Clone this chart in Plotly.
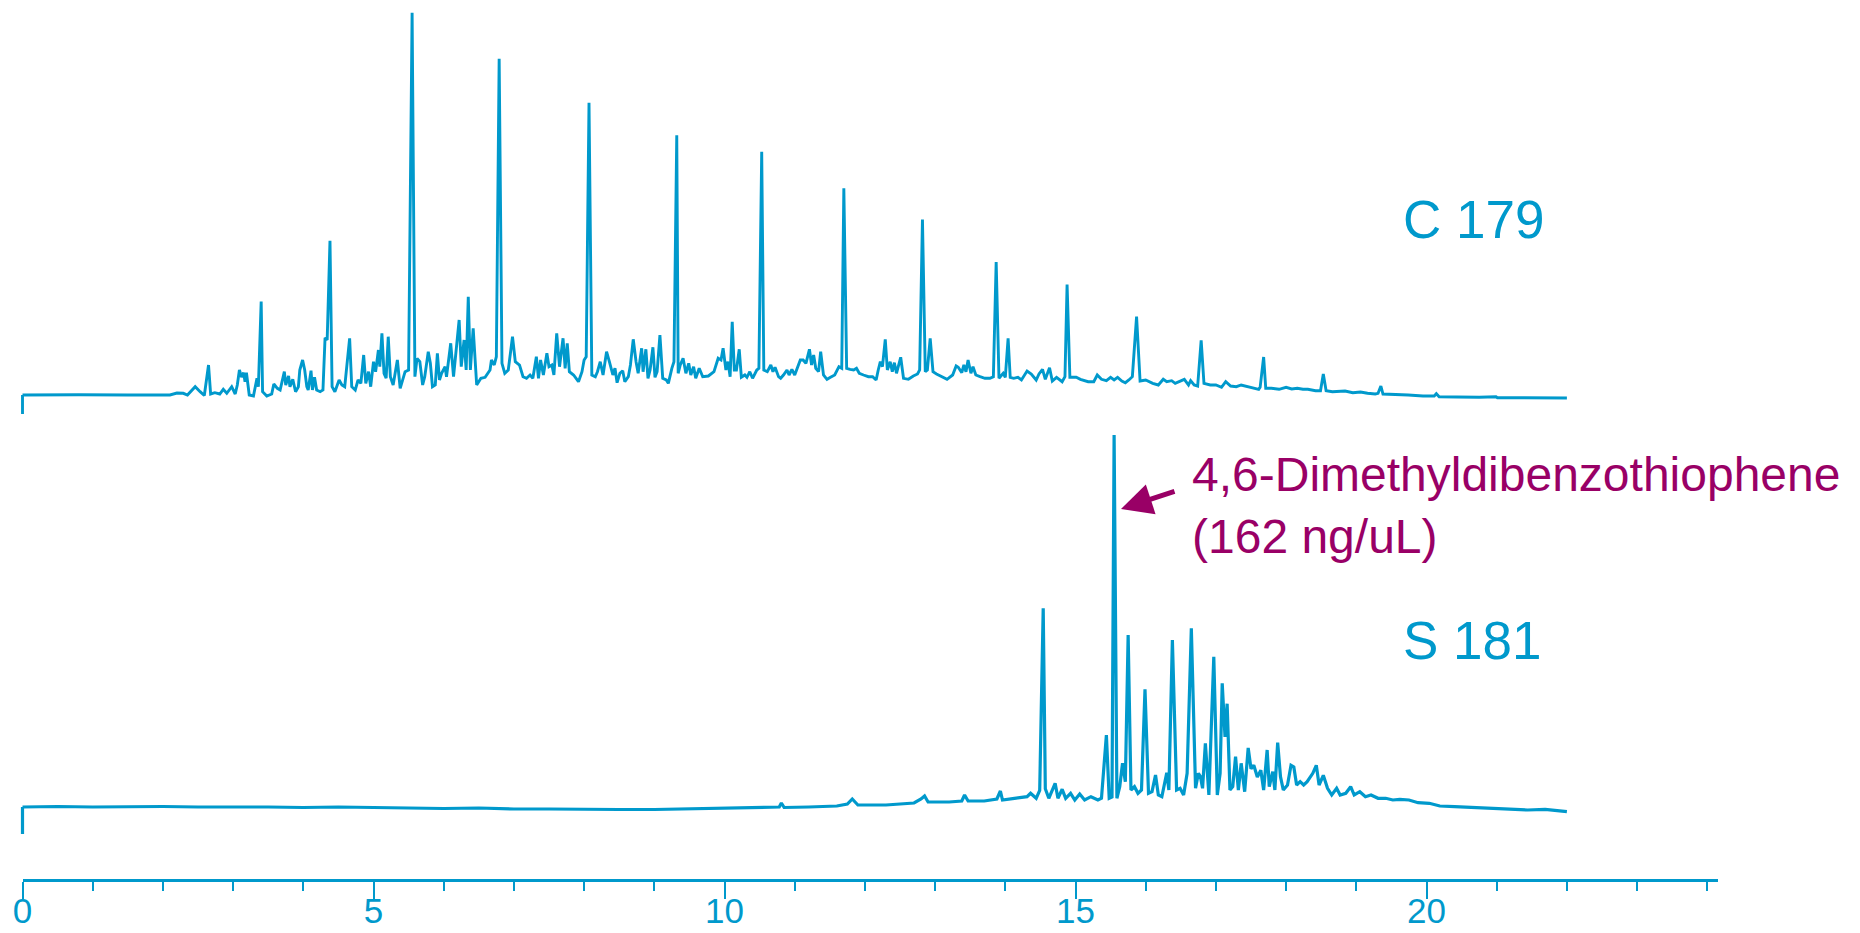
import plotly.graph_objects as go

# ---------------- data ----------------
# retention time (min) and detector signal (arbitrary units) – C 179 channel
top_time = [
    0.00, 0.30, 0.80, 1.50, 2.10, 2.20, 2.29, 2.35, 2.46, 2.53,
    2.59, 2.65, 2.68, 2.74, 2.81, 2.86, 2.91, 2.98, 3.03, 3.06,
    3.09, 3.12, 3.15, 3.17, 3.19, 3.23, 3.29, 3.34, 3.36, 3.40,
    3.42, 3.48, 3.55, 3.58, 3.63, 3.67, 3.73, 3.75, 3.79, 3.81,
    3.85, 3.89, 3.93, 3.95, 3.99, 4.02, 4.05, 4.07, 4.11, 4.13,
    4.16, 4.19, 4.24, 4.28, 4.31, 4.34, 4.38, 4.41, 4.45, 4.51,
    4.55, 4.59, 4.66, 4.69, 4.74, 4.78, 4.82, 4.86, 4.89, 4.93,
    4.96, 5.00, 5.03, 5.07, 5.09, 5.12, 5.15, 5.18, 5.21, 5.24,
    5.28, 5.34, 5.38, 5.45, 5.50, 5.55, 5.59, 5.62, 5.66, 5.70,
    5.73, 5.78, 5.81, 5.84, 5.88, 5.91, 5.94, 5.97, 6.02, 6.04,
    6.10, 6.14, 6.17, 6.22, 6.25, 6.29, 6.32, 6.35, 6.38, 6.42,
    6.47, 6.53, 6.59, 6.66, 6.68, 6.72, 6.75, 6.79, 6.83, 6.87,
    6.92, 6.98, 7.02, 7.08, 7.13, 7.18, 7.23, 7.27, 7.32, 7.35,
    7.38, 7.42, 7.47, 7.50, 7.54, 7.57, 7.61, 7.65, 7.70, 7.73,
    7.76, 7.79, 7.85, 7.92, 7.97, 8.00, 8.03, 8.07, 8.11, 8.16,
    8.19, 8.23, 8.27, 8.32, 8.36, 8.41, 8.44, 8.47, 8.51, 8.55,
    8.58, 8.63, 8.66, 8.70, 8.74, 8.77, 8.82, 8.84, 8.88, 8.91,
    8.94, 8.98, 9.01, 9.04, 9.08, 9.12, 9.17, 9.20, 9.25, 9.28,
    9.32, 9.34, 9.37, 9.41, 9.45, 9.49, 9.52, 9.56, 9.59, 9.64,
    9.69, 9.77, 9.85, 9.91, 9.95, 9.98, 10.02, 10.05, 10.08, 10.11,
    10.14, 10.17, 10.21, 10.24, 10.29, 10.32, 10.36, 10.40, 10.46, 10.49,
    10.53, 10.56, 10.61, 10.66, 10.69, 10.72, 10.77, 10.80, 10.84, 10.89,
    10.92, 10.96, 11.00, 11.05, 11.08, 11.12, 11.16, 11.21, 11.24, 11.27,
    11.30, 11.34, 11.37, 11.41, 11.46, 11.51, 11.57, 11.63, 11.67, 11.70,
    11.74, 11.79, 11.84, 11.88, 11.92, 11.98, 12.05, 12.11, 12.16, 12.19,
    12.22, 12.25, 12.29, 12.32, 12.36, 12.39, 12.42, 12.45, 12.51, 12.55,
    12.62, 12.69, 12.75, 12.78, 12.82, 12.86, 12.89, 12.93, 12.97, 13.02,
    13.09, 13.17, 13.25, 13.30, 13.33, 13.38, 13.41, 13.44, 13.47, 13.51,
    13.54, 13.58, 13.64, 13.71, 13.78, 13.83, 13.87, 13.91, 13.97, 14.00,
    14.04, 14.07, 14.12, 14.18, 14.23, 14.31, 14.37, 14.44, 14.48, 14.53,
    14.57, 14.63, 14.67, 14.73, 14.81, 14.85, 14.88, 14.92, 15.01, 15.07,
    15.18, 15.26, 15.31, 15.37, 15.44, 15.50, 15.55, 15.60, 15.66, 15.71,
    15.76, 15.81, 15.87, 15.92, 16.00, 16.10, 16.18, 16.25, 16.30, 16.37,
    16.42, 16.48, 16.55, 16.61, 16.64, 16.69, 16.74, 16.79, 16.83, 16.92,
    17.00, 17.08, 17.14, 17.21, 17.29, 17.36, 17.42, 17.48, 17.54, 17.61,
    17.63, 17.68, 17.71, 17.79, 17.90, 18.00, 18.08, 18.16, 18.24, 18.31,
    18.42, 18.49, 18.53, 18.57, 18.66, 18.77, 18.84, 18.95, 19.06, 19.16,
    19.27, 19.31, 19.35, 19.38, 19.53, 19.74, 19.95, 20.11, 20.14, 20.18,
    20.43, 20.75, 20.99, 21.01, 21.38, 22.00,
]
top_signal = [
    0.5, 0.8, 0.8, 0.5, 0.5, 2.5, 2.2, 0.5, 8.8, 3.8,
    0.0, 30.5, 1.5, 2.8, 1.5, 6.2, 2.2, 8.8, 1.5, 10.5,
    25.5, 18.5, 22.8, 13.8, 22.8, 0.5, -0.5, 17.2, 8.8, 94.0,
    3.8, -0.5, 1.5, 11.5, 7.2, 5.5, 23.8, 10.5, 19.5, 8.8,
    16.2, 3.8, 8.8, 25.5, 35.5, 25.5, 8.8, 5.5, 24.8, 5.5,
    18.2, 5.5, 3.8, 5.5, 57.8, 55.5, 154.8, 8.8, 3.8, 15.5,
    10.5, 8.8, 57.2, 8.8, 5.5, 15.5, 12.2, 40.5, 12.2, 23.8,
    8.8, 33.8, 23.8, 45.5, 28.8, 62.2, 22.2, 17.2, 58.8, 18.8,
    10.5, 35.5, 7.2, 23.8, 25.5, 382.8, 18.8, 37.2, 33.8, 10.5,
    18.8, 43.8, 32.2, 8.8, 10.5, 42.2, 15.5, 22.2, 28.8, 18.8,
    52.2, 18.8, 38.8, 75.5, 28.8, 55.5, 25.5, 98.8, 25.5, 67.2,
    10.5, 17.2, 18.2, 25.5, 35.5, 30.5, 38.8, 336.8, 32.2, 22.2,
    25.5, 58.8, 33.8, 30.5, 18.8, 17.2, 20.5, 17.2, 38.8, 17.2,
    35.5, 20.5, 42.2, 28.8, 30.5, 20.5, 62.2, 28.8, 57.2, 27.2,
    52.2, 23.8, 20.5, 13.8, 23.8, 35.5, 38.8, 292.8, 20.5, 18.8,
    23.8, 33.8, 20.5, 43.8, 33.8, 20.5, 27.2, 12.8, 22.2, 24.8,
    13.8, 18.8, 30.5, 56.2, 33.8, 22.2, 47.2, 23.8, 46.2, 17.2,
    25.5, 48.2, 18.2, 23.8, 60.5, 17.2, 15.5, 12.2, 27.2, 33.8,
    260.2, 22.2, 30.5, 37.2, 22.2, 32.2, 20.5, 28.8, 17.2, 27.2,
    18.8, 19.5, 23.8, 37.2, 35.5, 47.2, 25.5, 33.8, 18.8, 73.8,
    25.5, 25.5, 46.2, 18.2, 20.5, 18.2, 23.8, 17.2, 25.5, 27.2,
    243.8, 25.5, 23.8, 30.5, 23.8, 28.2, 18.8, 17.2, 20.5, 25.5,
    20.5, 26.2, 20.5, 28.8, 35.5, 35.5, 32.2, 46.2, 30.5, 40.5,
    27.2, 23.8, 43.8, 20.5, 16.2, 18.2, 20.5, 28.8, 27.2, 207.2,
    27.2, 26.2, 25.5, 27.2, 22.2, 20.5, 18.8, 18.8, 15.5, 25.5,
    33.8, 28.8, 56.2, 25.5, 33.8, 23.8, 32.8, 22.2, 38.2, 17.2,
    16.2, 19.5, 21.5, 25.5, 176.0, 23.8, 25.5, 57.2, 23.8, 21.5,
    18.8, 16.2, 20.5, 29.5, 28.2, 22.8, 30.5, 23.8, 35.5, 22.2,
    28.8, 20.5, 18.8, 17.2, 17.2, 18.8, 133.5, 17.2, 22.2, 18.2,
    57.2, 18.2, 17.2, 18.2, 15.5, 24.5, 21.5, 15.5, 21.5, 26.2,
    16.2, 27.8, 14.5, 18.2, 13.8, 18.8, 110.9, 18.2, 18.2, 16.2,
    13.8, 13.8, 20.5, 16.2, 14.8, 18.2, 15.5, 18.2, 14.5, 12.8,
    15.5, 18.8, 78.8, 14.5, 15.5, 12.2, 10.5, 16.2, 13.8, 14.8,
    12.2, 13.8, 16.2, 10.5, 14.8, 10.5, 9.5, 55.1, 12.2, 10.5,
    10.5, 8.2, 13.8, 9.5, 8.8, 10.5, 9.5, 8.2, 7.2, 6.2,
    8.2, 38.5, 7.2, 7.2, 6.2, 8.2, 6.5, 7.2, 6.2, 6.2,
    4.8, 4.8, 21.5, 4.8, 3.8, 3.8, 4.5, 2.8, 3.5, 2.2,
    1.5, 2.2, 9.5, 1.5, 1.2, 0.5, -0.5, -0.5, 1.8, -1.2,
    -1.5, -1.8, -1.2, -2.2, -2.2, -2.5,
]

# S 181 channel
bot_time = [
    0.00, 0.50, 1.00, 1.50, 2.00, 2.50, 3.00, 3.50, 4.00, 4.50,
    5.00, 5.50, 6.00, 6.50, 7.00, 7.50, 8.00, 8.50, 9.00, 9.50,
    10.00, 10.50, 10.78, 10.81, 10.85, 11.20, 11.60, 11.75, 11.82, 11.90,
    12.30, 12.70, 12.80, 12.85, 12.90, 13.20, 13.38, 13.42, 13.47, 13.70,
    13.88, 13.93, 13.96, 14.13, 14.31, 14.36, 14.44, 14.49, 14.54, 14.57,
    14.62, 14.71, 14.75, 14.81, 14.86, 14.93, 14.99, 15.06, 15.13, 15.22,
    15.32, 15.37, 15.44, 15.48, 15.52, 15.55, 15.59, 15.63, 15.67, 15.71,
    15.75, 15.79, 15.84, 15.89, 15.94, 15.99, 16.04, 16.09, 16.14, 16.18,
    16.23, 16.30, 16.33, 16.38, 16.44, 16.49, 16.54, 16.59, 16.65, 16.71,
    16.75, 16.78, 16.81, 16.85, 16.90, 16.97, 17.02, 17.06, 17.09, 17.13,
    17.16, 17.20, 17.24, 17.28, 17.32, 17.36, 17.41, 17.46, 17.50, 17.54,
    17.59, 17.64, 17.68, 17.73, 17.76, 17.81, 17.84, 17.88, 17.92, 17.96,
    18.02, 18.07, 18.11, 18.15, 18.20, 18.25, 18.30, 18.38, 18.43, 18.47,
    18.53, 18.59, 18.65, 18.72, 18.77, 18.85, 18.92, 18.97, 19.05, 19.13,
    19.21, 19.31, 19.42, 19.52, 19.62, 19.75, 19.88, 20.04, 20.19, 20.40,
    20.66, 20.92, 21.18, 21.44, 21.69, 22.00,
]
bot_signal = [
    0.0, 0.5, 0.0, 0.3, 0.5, 0.0, 0.3, 0.0, -0.5, 0.0,
    -0.5, -1.0, -1.5, -1.0, -2.0, -2.0, -2.5, -2.5, -2.5, -2.0,
    -1.5, -1.0, 0.0, 4.0, -0.5, 0.0, 1.0, 3.0, 8.0, 2.0,
    2.0, 4.0, 8.0, 11.0, 5.0, 5.0, 6.0, 12.0, 6.0, 6.0,
    8.0, 16.0, 7.0, 8.7, 10.3, 13.7, 8.7, 16.7, 198.7, 18.3,
    8.7, 23.7, 8.7, 17.7, 8.7, 13.7, 7.0, 13.0, 7.0, 10.3,
    7.0, 8.7, 72.0, 8.7, 10.0, 372.0, 8.7, 20.3, 43.7, 25.3,
    172.0, 17.0, 20.3, 13.7, 17.0, 117.7, 13.7, 15.3, 32.0, 12.0,
    10.3, 34.3, 17.0, 167.0, 17.0, 18.7, 12.0, 33.7, 178.7, 18.7,
    33.7, 30.3, 18.7, 63.7, 12.0, 150.3, 12.0, 33.7, 123.7, 70.0,
    103.3, 17.0, 20.3, 50.3, 17.0, 43.7, 15.3, 59.0, 38.3, 41.7,
    30.0, 36.7, 17.0, 57.0, 20.3, 35.3, 17.0, 64.3, 30.3, 17.0,
    22.0, 41.7, 40.0, 22.0, 25.3, 22.0, 25.3, 33.7, 41.7, 22.0,
    31.7, 18.7, 12.0, 18.7, 12.0, 13.7, 20.3, 12.0, 15.3, 10.3,
    12.0, 8.7, 8.7, 7.0, 7.7, 7.0, 4.3, 3.7, 1.0, 0.3,
    -0.7, -1.3, -2.3, -3.0, -2.3, -4.7,
]

axis_ticks = [0, 5, 10, 15, 20]
trace_labels = ["C 179", "S 181"]
callout_text = "4,6-Dimethyldibenzothiophene<br>(162 ng/uL)"

# ---------------- layout constants ----------------
W, H = 1860, 933
BLUE = "#0099cc"
PURPLE = "#990066"
FONT = "Liberation Sans, Arial, sans-serif"

PX_PER_MIN = 70.2        # horizontal scale
X0_PX = 22.5             # pixel position of t = 0
AXIS_END = 24.15         # end of drawn time axis (min)
PLOT_BOTTOM = 879        # pixel row of the time axis
TOP_BASE_PX = 395.5      # pixel row of C-trace zero
BOT_BASE_PX = 807.0      # pixel row of S-trace zero
TOP_STUB = 18.5
BOT_STUB = 27.0


def px_to_min(px):
    return (px - X0_PX) / PX_PER_MIN


def paper_x(px):
    return px / W


def paper_y(py):
    return (PLOT_BOTTOM - py) / PLOT_BOTTOM


fig = go.Figure()

top_line = dict(color=BLUE, width=2.9)
bot_line = dict(color=BLUE, width=3.2)

fig.add_trace(go.Scatter(x=top_time, y=top_signal, mode="lines", line=top_line,
                         xaxis="x2", yaxis="y", hoverinfo="skip", showlegend=False))
fig.add_trace(go.Scatter(x=[0, 0], y=[0.5, -TOP_STUB], mode="lines", line=top_line,
                         xaxis="x2", yaxis="y", hoverinfo="skip", showlegend=False))
fig.add_trace(go.Scatter(x=bot_time, y=bot_signal, mode="lines", line=bot_line,
                         xaxis="x2", yaxis="y2", hoverinfo="skip", showlegend=False))
fig.add_trace(go.Scatter(x=[0, 0], y=[0.0, -BOT_STUB], mode="lines", line=bot_line,
                         xaxis="x2", yaxis="y2", hoverinfo="skip", showlegend=False))
# anchor trace for the drawn time axis
fig.add_trace(go.Scatter(x=[0], y=[None], mode="lines", xaxis="x", yaxis="y",
                         hoverinfo="skip", showlegend=False))

annotations = [
    dict(text=trace_labels[0], xref="paper", yref="paper", x=paper_x(1401), y=paper_y(219),
         xanchor="left", yanchor="middle", showarrow=False,
         font=dict(family=FONT, size=53, color=BLUE)),
    dict(text=trace_labels[1], xref="paper", yref="paper", x=paper_x(1401), y=paper_y(640),
         xanchor="left", yanchor="middle", showarrow=False,
         font=dict(family=FONT, size=53, color=BLUE)),
    dict(text=callout_text, xref="paper", yref="paper", x=paper_x(1190), y=paper_y(505),
         xanchor="left", yanchor="middle", align="left", showarrow=False,
         font=dict(family=FONT, size=48, color=PURPLE)),
    dict(text="", xref="paper", yref="paper", x=paper_x(1121), y=paper_y(509),
         ax=55, ay=-18, axref="pixel", ayref="pixel", showarrow=True,
         arrowhead=2, arrowsize=1.25, arrowwidth=5, arrowcolor=PURPLE),
]

fig.update_layout(
    width=W, height=H,
    margin=dict(l=0, r=0, t=0, b=H - PLOT_BOTTOM, pad=0, autoexpand=False),
    paper_bgcolor="white", plot_bgcolor="white",
    showlegend=False, hovermode=False,
    xaxis=dict(
        domain=[paper_x(X0_PX), paper_x(X0_PX + AXIS_END * PX_PER_MIN)],
        range=[0, AXIS_END], anchor="y", automargin=False,
        showgrid=False, zeroline=False,
        showline=True, linecolor=BLUE, linewidth=3,
        ticks="outside", tickvals=axis_ticks, ticklen=17, tickwidth=2, tickcolor=BLUE,
        minor=dict(dtick=1, tick0=0, ticks="outside", ticklen=9, tickwidth=2, tickcolor=BLUE),
        tickfont=dict(family=FONT, size=35, color=BLUE),
        ticklabelstandoff=-18,
        fixedrange=True,
    ),
    xaxis2=dict(
        domain=[0, 1], range=[px_to_min(0), px_to_min(W)], anchor="y",
        visible=False, showgrid=False, zeroline=False, fixedrange=True, automargin=False,
    ),
    yaxis=dict(
        domain=[0, 1], range=[TOP_BASE_PX - PLOT_BOTTOM, TOP_BASE_PX],
        visible=False, showgrid=False, zeroline=False, fixedrange=True, automargin=False,
    ),
    yaxis2=dict(
        range=[BOT_BASE_PX - PLOT_BOTTOM, BOT_BASE_PX], overlaying="y",
        visible=False, showgrid=False, zeroline=False, fixedrange=True, automargin=False,
    ),
    annotations=annotations,
)

fig.write_html("out.html", config={"displayModeBar": False})
